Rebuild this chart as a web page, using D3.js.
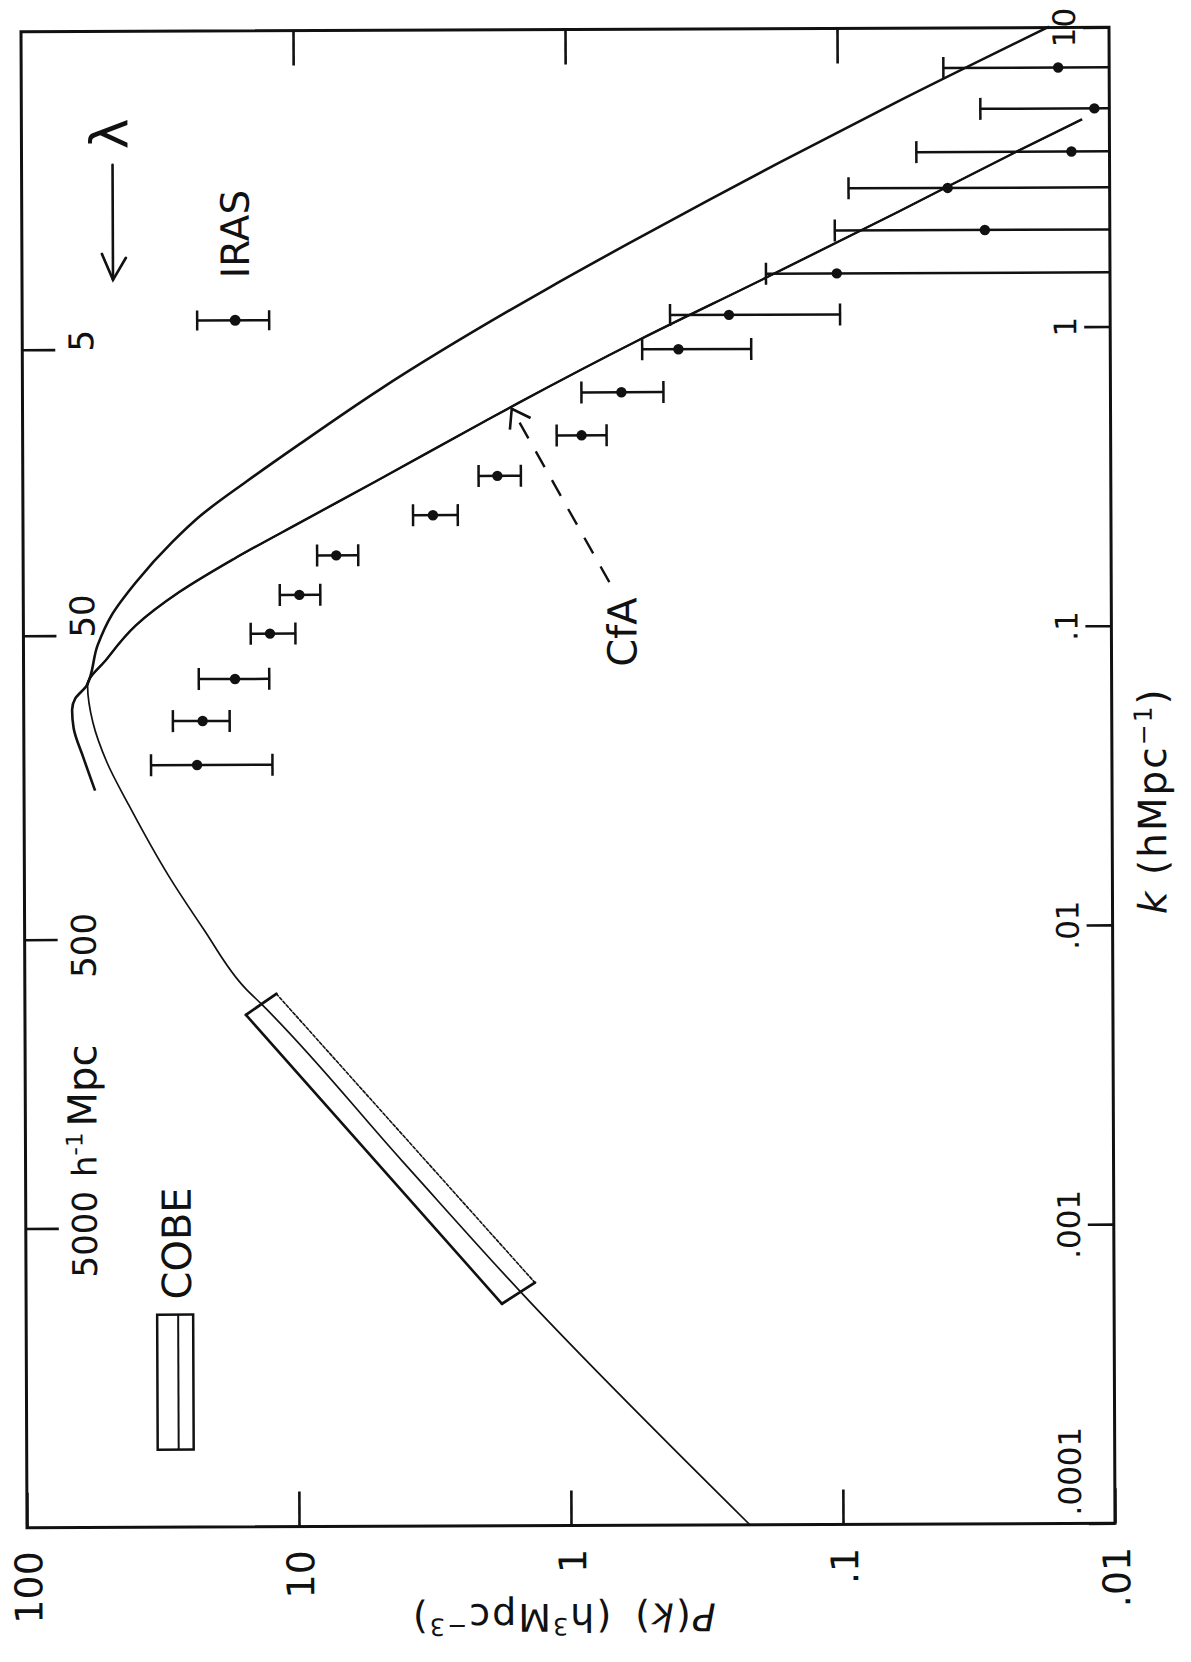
<!DOCTYPE html>
<html>
<head>
<meta charset="utf-8">
<script src="https://cdn.jsdelivr.net/npm/d3@7"></script>
<style>
  html, body { margin: 0; padding: 0; background: #fff; }
  svg { display: block; }
  text { font-family: "DejaVu Sans", sans-serif; fill: #111; }
</style>
</head>
<body>
<svg id="chart" width="1191" height="1662"></svg>
<script>
// ---- axis ticks ----
const kTicks = [0.0001, 0.001, 0.01, 0.1, 1, 10];
const kTickLabels = [".0001", ".001", ".01", ".1", "1", "10"];
const pTicks = [100, 10, 1, 0.1, 0.01];
const pTickLabels = ["100", "10", "1", ".1", ".01"];
const pInnerTicks = [10, 1, 0.1];
// wavelength scale (h^-1 Mpc) marked along the k axis
const lambdaTickK = [0.865, 0.0957, 0.00923, 0.001];
const lambdaTickLabels = ["5", "50", "500", "5000"];

// ---- model power spectra: [k, P(k)] ----
const curveUpper = [
  [0.0290, 54.8], [0.0375, 60.5], [0.0470, 65.6], [0.0540, 66.4], [0.0590, 64.6],
  [0.0652, 58.6], [0.0887, 53.4], [0.1117, 47.4], [0.1440, 38.5], [0.1958, 28.3],
  [0.241, 22.1], [0.311, 15.1], [0.413, 9.66], [0.626, 4.91], [1.384, 1.135],
  [1.928, 0.585], [2.68, 0.298], [3.56, 0.1644], [5.66, 0.0605], [10.07, 0.0166]
];
const curveLower = [
  [0.0001, 0.220], [0.000587, 1.476], [0.00166, 4.12], [0.0056, 13.55], [0.00628, 15.4],
  [0.00997, 22.0], [0.0151, 29.6], [0.0259, 41.2], [0.0360, 49.5],
  [0.0490, 55.7], [0.0652, 58.2], [0.0797, 49.5], [0.1035, 38.5], [0.1333, 26.7],
  [0.1718, 16.8], [0.2285, 9.44], [0.311, 5.03], [0.493, 1.99], [0.566, 1.50],
  [0.913, 0.543], [1.449, 0.1905], [2.43, 0.0601], [3.85, 0.0220], [4.93, 0.0126]
];

// ---- IRAS / CfA measurements ----
const dataK  = [0.0352, 0.0494, 0.0682, 0.0966, 0.130, 0.176, 0.239, 0.323, 0.440,
                0.612, 0.851, 1.107, 1.518, 2.11, 2.92, 3.85, 5.36, 7.35];
const dataP  = [23.1, 22.0, 16.7, 12.4, 9.66, 7.06, 3.11, 1.80, 0.881,
                0.628, 0.387, 0.252, 0.101, 0.0288, 0.0394, 0.0138, 0.01135, 0.0154];
const dataHi = [34.1, 28.3, 22.7, 14.6, 11.4, 8.30, 3.68, 2.11, 1.088,
                0.881, 0.526, 0.415, 0.184, 0.1026, 0.0912, 0.0513, 0.0298, 0.0407];
const dataLo = [12.2, 17.5, 12.5, 10.0, 8.09, 5.86, 2.52, 1.475, 0.713,
                0.440, 0.209, 0.0984, null, null, null, null, null, null];

// ---- COBE normalisation box corners: [k, P] ----
const cobeBox = [[0.00514, 15.4], [0.00604, 11.9], [0.000649, 1.346], [0.000552, 1.78]];

// ---- CfA pointer: from [k, P] to [k, P] ----
const cfaPointer = [[0.142, 0.70], [0.541, 1.59]];

const W = 1191, H = 1662;
const ink = "#111";
const svg = d3.select("#chart");
svg.append("rect").attr("width", W).attr("height", H).attr("fill", "#fff");

// whole plot sits slightly tilted on the page
const g = svg.append("g").attr("transform", "rotate(-0.23,568,777)");

const X0 = 24, X1 = 1112, Y0 = 29.5, Y1 = 1525.5;
// P(k) runs horizontally (decreasing to the right), k runs upward
const x = d3.scaleLog().domain([100, 0.01]).range([X0, X1]);
const y = d3.scaleLog().domain([1e-4, 10]).range([Y1, Y0]);

// frame
g.append("rect")
  .attr("x", X0).attr("y", Y0).attr("width", X1 - X0).attr("height", Y1 - Y0)
  .attr("fill", "none").attr("stroke", ink).attr("stroke-width", 3);

function styleAxis(sel) {
  sel.select(".domain").remove();
  sel.selectAll("line").attr("stroke", ink).attr("stroke-width", 2.6);
  sel.selectAll("text").remove();
}
// k ticks on the right edge, pointing inward
g.append("g").attr("transform", `translate(${X1},0)`)
  .call(d3.axisLeft(y).tickValues(kTicks).tickSize(26).tickFormat(""))
  .call(styleAxis);
// P ticks on bottom and top edges, pointing inward
g.append("g").attr("transform", `translate(0,${Y1})`)
  .call(d3.axisTop(x).tickValues(pTicks).tickSize(35).tickFormat(""))
  .call(styleAxis);
g.append("g").attr("transform", `translate(0,${Y0})`)
  .call(d3.axisBottom(x).tickValues(pInnerTicks).tickSize(35).tickFormat(""))
  .call(styleAxis);
// wavelength ticks on the left edge
g.append("g").attr("transform", `translate(${X0},0)`)
  .call(d3.axisRight(y).tickValues(lambdaTickK).tickSize(33).tickFormat(""))
  .call(styleAxis);

// k tick labels (inside the frame, rotated)
kTicks.forEach((k, i) => {
  const first = i === 0;
  g.append("text")
    .attr("transform", `translate(1078,${first ? y(k) - 8 : y(k)}) rotate(-90)`)
    .attr("text-anchor", first ? "start" : "middle")
    .style("font-size", "31px")
    .text(kTickLabels[i]);
});

// P tick labels below the frame
pTicks.forEach((p, i) => {
  g.append("text")
    .attr("transform", `translate(${x(p) + 15},1549) rotate(-90)`)
    .attr("text-anchor", "end")
    .style("font-size", "38px")
    .text(pTickLabels[i]);
});

// wavelength labels
lambdaTickK.forEach((k, i) => {
  const t = g.append("text").attr("text-anchor", "start").style("font-size", "34px");
  const num = t.append("tspan").text(lambdaTickLabels[i]);
  if (i === lambdaTickLabels.length - 1) {
    t.append("tspan").attr("dx", 14).text("h");
    t.append("tspan").attr("dy", -14).style("font-size", "23px").text("-1");
    t.append("tspan").attr("dy", 14).attr("dx", 6).style("font-size", "40px").text("Mpc");
  }
  const w = num.node().getComputedTextLength();
  const shift = lambdaTickLabels[i].length > 2 ? w / 2 + 6 : 2;
  t.attr("transform", `translate(95,${y(k) + shift}) rotate(-90)`);
});

// model curves
const line = d3.line()
  .x(d => x(d[1])).y(d => y(d[0]))
  .curve(d3.curveMonotoneY);
g.append("path").datum(curveUpper).attr("d", line)
  .attr("fill", "none").attr("stroke", ink).attr("stroke-width", 2.6)
  .attr("stroke-linejoin", "round");
// the lower curve is drawn finer on the large-scale side of its turnover
const turnK = 0.0652;
const defs = svg.append("defs");
defs.append("clipPath").attr("id", "smallScales")
  .append("rect").attr("x", 0).attr("y", 0).attr("width", W).attr("height", y(turnK));
g.append("path").datum(curveLower).attr("d", line)
  .attr("fill", "none").attr("stroke", ink).attr("stroke-width", 1.7)
  .attr("stroke-linejoin", "round");
g.append("path").datum(curveLower).attr("d", line)
  .attr("clip-path", "url(#smallScales)")
  .attr("fill", "none").attr("stroke", ink).attr("stroke-width", 2.4)
  .attr("stroke-linejoin", "round");

// COBE box
const cb = cobeBox.map(d => [x(d[1]), y(d[0])]);
const seg = (a, b, w, dash) => g.append("line")
  .attr("x1", a[0]).attr("y1", a[1]).attr("x2", b[0]).attr("y2", b[1])
  .attr("stroke", ink).attr("stroke-width", w)
  .attr("stroke-dasharray", dash || null).attr("stroke-linecap", "round");
seg(cb[0], cb[3], 2.6);
seg(cb[0], cb[1], 2.8);
seg(cb[3], cb[2], 2.8);
seg(cb[1], cb[2], 1.6, "3 2");

// measurements with error bars
const capHalf = 11;
const pts = dataK.map((k, i) => ({ k, p: dataP[i], hi: dataHi[i], lo: dataLo[i] }));
const eb = g.append("g").attr("stroke", ink).attr("stroke-width", 2.5);
pts.forEach(d => {
  const yy = y(d.k);
  const xLeft = x(d.hi);
  const xRight = d.lo === null ? X1 : x(d.lo);
  eb.append("line").attr("x1", xLeft).attr("x2", xRight).attr("y1", yy).attr("y2", yy);
  eb.append("line").attr("x1", xLeft).attr("x2", xLeft).attr("y1", yy - capHalf).attr("y2", yy + capHalf);
  if (d.lo !== null) {
    eb.append("line").attr("x1", xRight).attr("x2", xRight).attr("y1", yy - capHalf).attr("y2", yy + capHalf);
  }
});
g.append("g").selectAll("circle").data(pts).join("circle")
  .attr("cx", d => x(d.p)).attr("cy", d => y(d.k)).attr("r", 5.2).attr("fill", ink);

// IRAS key
const irasY = 319;
eb.append("line").attr("x1", 199).attr("x2", 271).attr("y1", irasY).attr("y2", irasY);
eb.append("line").attr("x1", 199).attr("x2", 199).attr("y1", irasY - 10).attr("y2", irasY + 10);
eb.append("line").attr("x1", 271).attr("x2", 271).attr("y1", irasY - 10).attr("y2", irasY + 10);
g.append("circle").attr("cx", 237).attr("cy", irasY).attr("r", 5.5).attr("fill", ink);
g.append("text").attr("transform", "translate(251,277) rotate(-90)")
  .style("font-size", "39px").text("IRAS");

// COBE key
g.append("rect").attr("x", 155).attr("y", 1313).attr("width", 36).attr("height", 135)
  .attr("fill", "none").attr("stroke", ink).attr("stroke-width", 2.5);
g.append("line").attr("x1", 176).attr("x2", 176).attr("y1", 1313).attr("y2", 1448)
  .attr("stroke", ink).attr("stroke-width", 2);
g.append("text").attr("transform", "translate(189,1298) rotate(-90)")
  .style("font-size", "40px").text("COBE");

// wavelength direction arrow
g.append("text").attr("transform", "translate(130,132) rotate(-90)")
  .attr("text-anchor", "middle").style("font-size", "52px").text("λ");
const arrow = g.append("g").attr("stroke", ink).attr("stroke-width", 2.6)
  .attr("fill", "none").attr("stroke-linecap", "round");
arrow.append("line").attr("x1", 115).attr("y1", 163).attr("x2", 115).attr("y2", 278);
arrow.append("polyline").attr("points", "104,252 115,278 128,256");

// CfA pointer
const c0 = [x(cfaPointer[0][1]), y(cfaPointer[0][0])];
const c1 = [x(cfaPointer[1][1]), y(cfaPointer[1][0])];
g.append("line").attr("x1", c0[0]).attr("y1", c0[1]).attr("x2", c1[0]).attr("y2", c1[1])
  .attr("stroke", ink).attr("stroke-width", 2.4).attr("stroke-dasharray", "18 15");
{
  const ang = Math.atan2(c0[1] - c1[1], c0[0] - c1[0]);
  const L = 21, spread = 0.6;
  const a1 = [c1[0] + L * Math.cos(ang - spread), c1[1] + L * Math.sin(ang - spread)];
  const a2 = [c1[0] + L * Math.cos(ang + spread), c1[1] + L * Math.sin(ang + spread)];
  g.append("polyline").attr("points", `${a1} ${c1} ${a2}`)
    .attr("fill", "none").attr("stroke", ink).attr("stroke-width", 2.6);
}
g.append("text").attr("transform", "translate(637,667) rotate(-90)")
  .style("font-size", "40px").text("CfA");

// axis titles
const kt = g.append("text").attr("transform", "translate(1166,803) rotate(-90)")
  .attr("text-anchor", "middle").style("font-size", "39px").style("letter-spacing", "2px");
kt.append("tspan").style("font-style", "italic").text("k");
kt.append("tspan").text(" (hMpc");
kt.append("tspan").attr("dy", -14).style("font-size", "25px").text("−1");
kt.append("tspan").attr("dy", 14).text(")");

const pt = g.append("text").attr("transform", "translate(560,1604) rotate(180)")
  .attr("text-anchor", "middle").style("font-size", "38px").style("letter-spacing", "2px");
pt.append("tspan").style("font-style", "italic").text("P");
pt.append("tspan").text("(");
pt.append("tspan").style("font-style", "italic").text("k");
pt.append("tspan").text(")");
pt.append("tspan").attr("dx", 22).text("(h");
pt.append("tspan").attr("dy", -14).style("font-size", "24px").text("3");
pt.append("tspan").attr("dy", 14).text("Mpc");
pt.append("tspan").attr("dy", -14).style("font-size", "24px").text("−3");
pt.append("tspan").attr("dy", 14).text(")");
</script>
</body>
</html>
